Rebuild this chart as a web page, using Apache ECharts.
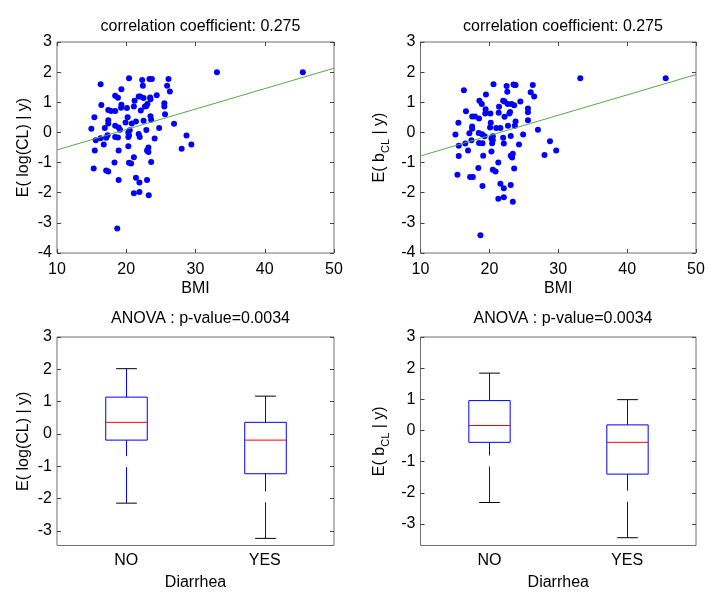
<!DOCTYPE html>
<html><head><meta charset="utf-8">
<script src="https://cdn.jsdelivr.net/npm/echarts@6/dist/echarts.min.js"></script>
<style>html,body{margin:0;padding:0;background:#fff}#c{width:717px;height:598px}</style>
</head><body><div id="c"></div>
<script>
// ---- data ----
const bmiLeft = [14.96,15.4,15.3,15.45,15.6,16.3,16.4,16.3,16.75,16.9,17.1,17.1,17.4,17.3,17.4,17.4,17.4,17.8,18.4,18.4,18.4,18.4,18.3,18.8,18.9,18.8,18.9,18.9,18.7,19.1,19.3,19.25,19.3,19.9,20.1,20.2,20.3,20.3,20.3,20.4,20.4,20.5,20.4,20.7,20.8,21.1,21.1,21.1,21.2,21.4,21.4,21.8,21.8,21.9,21.9,21.95,22.0,22.1,22.3,22.4,22.5,22.5,22.7,22.9,22.9,23.0,23.0,23.06,23.2,23.2,23.25,23.35,23.45,23.5,23.5,23.6,23.6,23.7,24.1,24.4,24.75,25.5,25.5,25.6,25.9,26.1,26.3,26.9,28.0,28.7,29.4,33.1,45.5];
const logCL = [0.12,0.5,-1.2,-0.6,-0.26,1.6,0.91,-0.19,-0.4,0.15,-0.18,-1.26,-1.3,-0.09,0.3,0.4,0.74,0.71,0.71,1.22,0.22,-0.15,-1.0,1.15,0.16,-0.17,-0.6,-1.58,-3.19,0.09,1.43,0.82,0.92,0.33,0.81,0.5,-0.46,0.0,-0.15,-1.01,1.8,0.07,-0.1,-1.03,0.3,0.86,-0.82,-2.02,1.05,0.36,-1.5,1.19,-0.05,-1.66,-1.98,-0.15,1.19,0.73,1.74,1.55,1.14,0.39,0.86,0.88,0.08,-0.6,-1.58,0.94,-0.65,-0.5,-2.08,1.77,1.16,1.1,0.54,0.42,-0.98,1.77,-0.2,1.23,0.15,0.97,0.86,0.6,1.55,1.77,1.36,0.29,-0.54,-0.1,-0.4,2.0,2.0];

const bmiRight = [15.07,15.5,15.55,15.55,15.36,16.3,16.6,16.5,16.9,17.1,17.2,17.6,17.4,17.5,17.5,17.5,17.9,18.5,18.55,18.45,18.5,18.4,18.9,18.95,19.0,19.1,19.0,18.7,19.3,19.5,19.4,19.45,20.1,20.15,20.2,20.3,20.3,20.4,20.5,20.6,20.5,20.5,20.9,21.0,21.35,21.3,21.3,21.4,21.6,21.6,22.0,22.0,22.1,22.1,22.1,22.2,22.2,22.5,22.6,22.65,22.7,22.9,23.0,23.1,23.1,23.1,23.2,23.3,23.4,23.4,23.5,23.6,23.7,23.8,23.7,23.6,23.8,24.3,24.5,24.9,25.6,25.6,25.6,26.0,26.3,26.5,27.05,28.0,28.8,29.7,33.2,45.6];
const bCL = [-0.07,0.32,-0.44,-0.78,-1.4,1.4,0.7,-0.37,-0.6,-0.03,-1.48,-1.48,-0.26,0.12,0.2,0.53,0.53,0.46,1.05,-0.02,-0.35,-1.18,0.94,-0.06,-0.36,-0.77,-1.78,-3.41,-0.13,1.26,0.63,0.77,0.16,0.63,0.32,-0.63,-0.2,-0.36,-1.24,1.6,-0.13,-0.25,-1.3,0.15,0.65,-1.0,-2.2,0.85,0.15,-1.7,1.05,-0.18,-1.85,-2.15,-0.37,1.03,0.52,1.54,1.35,0.94,0.22,0.63,0.68,-0.12,-0.77,-1.74,0.94,-0.83,-0.71,-2.3,1.59,0.9,1.57,0.36,0.22,-1.2,1.57,-0.4,1.03,-0.07,0.79,0.67,0.4,1.33,1.57,1.19,0.09,-0.75,-0.29,-0.6,1.8,1.8];

const trendX = [10, 50];
const trendLogCL = [-0.58, 2.13];
const trendBCL = [-0.78, 1.92];

const boxCategories = ['NO', 'YES'];
// [lower whisker, Q1, median, Q3, upper whisker]
const boxLogCL = [[-2.14, -0.19, 0.36, 1.14, 2.02], [-3.23, -1.23, -0.19, 0.36, 1.17]];
const boxBCL = [[-2.31, -0.38, 0.16, 0.96, 1.84], [-3.44, -1.40, -0.38, 0.18, 0.99]];

const yTicksBottom = [-3, -2, -1, 0, 1, 2, 3];

// ---- chart ----
const FONT = 'Liberation Sans, Arial, Helvetica, sans-serif';
const AX = '#707070';
const zip = (a, b) => a.map((v, i) => [v, b[i]]);

const grids = [
  {left: 57, top: 42, width: 277, height: 211},
  {left: 420.5, top: 42, width: 275.5, height: 211},
  {left: 57, top: 337, width: 277, height: 208.5},
  {left: 420.5, top: 337, width: 275.5, height: 208.5}
].map(g => Object.assign(g, {show: true, borderColor: AX, borderWidth: 1, backgroundColor: '#fff'}));

const tickStyle = {show: true, inside: true, length: 4, lineStyle: {color: '#444', width: 1}};
const lbl = {fontSize: 16, color: '#000', fontFamily: FONT};
const noLine = {show: false, onZero: false};

const richName = {
  a: {fontSize: 16, fontFamily: FONT, color: '#000', lineHeight: 24, verticalAlign: 'middle'},
  s: {fontSize: 11, fontFamily: FONT, color: '#000', lineHeight: 12, verticalAlign: 'bottom'}
};
const nameLog = '{a|E( log(CL) | y)}';
const nameB = '{a|E( b}{s|CL}{a| | y)}';

const xAxes = [], yAxes = [];
function scatterAxes(gi, yname, ygap) {
  xAxes.push({type: 'value', gridIndex: gi, min: 10, max: 50, interval: 10, position: 'bottom',
    axisLine: noLine, splitLine: {show: false}, axisTick: tickStyle,
    axisLabel: Object.assign({margin: 9}, lbl),
    name: 'BMI', nameLocation: 'middle', nameGap: 28, nameTextStyle: lbl});
  xAxes.push({type: 'value', gridIndex: gi, min: 10, max: 50, interval: 10, position: 'top',
    axisLine: noLine, splitLine: {show: false}, axisTick: tickStyle, axisLabel: {show: false}});
  yAxes.push({type: 'value', gridIndex: gi, min: -4, max: 3, interval: 1, position: 'left',
    axisLine: noLine, splitLine: {show: false}, axisTick: tickStyle,
    axisLabel: Object.assign({margin: 5}, lbl),
    name: yname, nameLocation: 'middle', nameGap: ygap, nameRotate: 90,
    nameTextStyle: Object.assign({}, lbl, {rich: richName})});
  yAxes.push({type: 'value', gridIndex: gi, min: -4, max: 3, interval: 1, position: 'right',
    axisLine: noLine, splitLine: {show: false}, axisTick: tickStyle, axisLabel: {show: false}});
}
function boxAxes(gi, yname, ygap, ymin) {
  xAxes.push({type: 'category', gridIndex: gi, data: boxCategories, position: 'bottom',
    axisLine: noLine, axisTick: {show: false}, splitLine: {show: false},
    axisLabel: Object.assign({margin: 7}, lbl),
    name: 'Diarrhea', nameLocation: 'middle', nameGap: 29, nameTextStyle: lbl});
  yAxes.push({type: 'value', gridIndex: gi, min: ymin, max: 3, position: 'left',
    axisLine: noLine, splitLine: {show: false},
    axisTick: Object.assign({customValues: yTicksBottom}, tickStyle),
    axisLabel: Object.assign({margin: 5, customValues: yTicksBottom}, lbl),
    name: yname, nameLocation: 'middle', nameGap: ygap, nameRotate: 90,
    nameTextStyle: Object.assign({}, lbl, {rich: richName})});
  yAxes.push({type: 'value', gridIndex: gi, min: ymin, max: 3, position: 'right',
    axisLine: noLine, splitLine: {show: false},
    axisTick: Object.assign({customValues: yTicksBottom}, tickStyle), axisLabel: {show: false}});
}

scatterAxes(0, nameLog, 21);
scatterAxes(1, nameB, 29);
boxAxes(2, nameLog, 21, -3.45);
boxAxes(3, nameB, 29, -3.69);
// x axes: 0,1 (g0) 2,3 (g1) 4 (g2) 5 (g3); y axes: 0,1 (g0) 2,3 (g1) 4,5 (g2) 6,7 (g3)

function boxRender(params, api) {
  const i = api.value(0);
  const lo = api.coord([i, api.value(1)]);
  const q1 = api.coord([i, api.value(2)]);
  const md = api.coord([i, api.value(3)]);
  const q3 = api.coord([i, api.value(4)]);
  const hi = api.coord([i, api.value(5)]);
  const band = api.size([1, 0])[0];
  const bw = band * 0.3, cw = band * 0.15;
  const x = Math.round(lo[0]) + 0.5;
  const blue = '#0000ff';
  const dash = [36, 11];
  return {type: 'group', children: [
    {type: 'line', shape: {x1: x, y1: hi[1], x2: x, y2: q3[1]}, style: {stroke: blue, lineWidth: 1, lineDash: dash}},
    {type: 'line', shape: {x1: x, y1: lo[1], x2: x, y2: q1[1]}, style: {stroke: blue, lineWidth: 1, lineDash: dash}},
    {type: 'line', shape: {x1: x - cw / 2, y1: hi[1], x2: x + cw / 2, y2: hi[1]}, style: {stroke: '#000', lineWidth: 1}},
    {type: 'line', shape: {x1: x - cw / 2, y1: lo[1], x2: x + cw / 2, y2: lo[1]}, style: {stroke: '#000', lineWidth: 1}},
    {type: 'rect', shape: {x: x - bw / 2, y: q3[1], width: bw, height: q1[1] - q3[1]}, style: {fill: 'none', stroke: blue, lineWidth: 1}},
    {type: 'line', shape: {x1: x - bw / 2, y1: md[1], x2: x + bw / 2, y2: md[1]}, style: {stroke: '#ff0000', lineWidth: 1}}
  ]};
}
const boxData = arr => arr.map((s, i) => [i].concat(s));

const titleStyle = {fontSize: 16, fontWeight: 'normal', color: '#000', fontFamily: FONT};
const dot = {color: '#0000ff', opacity: 1};
const option = {
  animation: false,
  backgroundColor: '#fff',
  title: [
    {text: 'correlation coefficient: 0.275', left: 195.5, top: 14, textAlign: 'center', textStyle: titleStyle},
    {text: 'correlation coefficient: 0.275', left: 558, top: 14, textAlign: 'center', textStyle: titleStyle},
    {text: 'ANOVA : p-value=0.0034', left: 195.5, top: 306, textAlign: 'center', textStyle: titleStyle},
    {text: 'ANOVA : p-value=0.0034', left: 558, top: 306, textAlign: 'center', textStyle: titleStyle}
  ],
  grid: grids,
  xAxis: xAxes,
  yAxis: yAxes,
  series: [
    {type: 'scatter', xAxisIndex: 0, yAxisIndex: 0, data: zip(bmiLeft, logCL), symbolSize: 6, itemStyle: dot, z: 2},
    {type: 'line', xAxisIndex: 0, yAxisIndex: 0, data: zip(trendX, trendLogCL), showSymbol: false, lineStyle: {color: '#5aa84a', width: 1}, z: 3},
    {type: 'scatter', xAxisIndex: 2, yAxisIndex: 2, data: zip(bmiRight, bCL), symbolSize: 6, itemStyle: dot, z: 2},
    {type: 'line', xAxisIndex: 2, yAxisIndex: 2, data: zip(trendX, trendBCL), showSymbol: false, lineStyle: {color: '#5aa84a', width: 1}, z: 3},
    {type: 'custom', xAxisIndex: 4, yAxisIndex: 4, data: boxData(boxLogCL), renderItem: boxRender, encode: {x: 0, y: [1, 2, 3, 4, 5]}},
    {type: 'custom', xAxisIndex: 5, yAxisIndex: 6, data: boxData(boxBCL), renderItem: boxRender, encode: {x: 0, y: [1, 2, 3, 4, 5]}}
  ]
};
echarts.init(document.getElementById('c'), null, {renderer: 'canvas'}).setOption(option);
</script></body></html>
